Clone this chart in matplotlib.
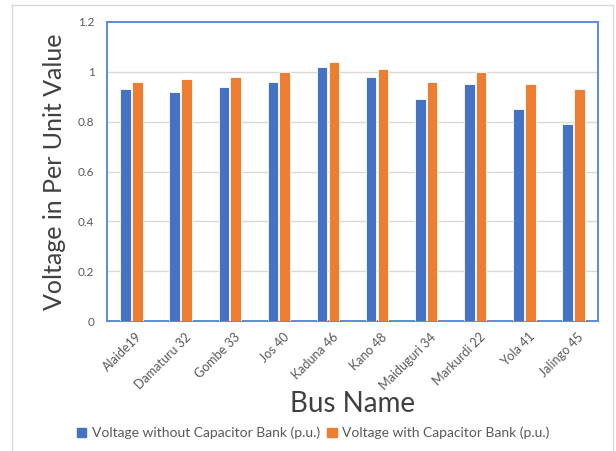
import matplotlib
matplotlib.use("Agg")
import matplotlib.pyplot as plt
import numpy as np
from matplotlib.patches import Patch
from matplotlib.lines import Line2D

buses = ["Alaide19", "Damaturu 32", "Gombe 33", "Jos 40", "Kaduna 46",
         "Kano 48", "Maiduguri 34", "Markurdi 22", "Yola 41", "Jalingo 45"]
without_cap = [0.93, 0.92, 0.94, 0.96, 1.02, 0.98, 0.89, 0.95, 0.85, 0.79]
with_cap = [0.96, 0.97, 0.98, 1.00, 1.04, 1.01, 0.96, 1.00, 0.95, 0.93]
y_ticks = [0, 0.2, 0.4, 0.6, 0.8, 1, 1.2]
y_tick_labels = ["0", "0.2", "0.4", "0.6", "0.8", "1", "1.2"]

plt.rcParams["font.family"] = ["Lato", "DejaVu Sans"]

BLUE = "#4472C4"
ORANGE = "#ED7D31"
TEXT = "#595959"

W, H = 616, 451
fig = plt.figure(figsize=(W / 100, H / 100), dpi=100)
ax = fig.add_axes([107 / W, 1 - 321 / H, (598 - 107) / W, (321 - 22) / H])

x = np.arange(len(buses))
bw = 0.215
ax.bar(x - 0.12, without_cap, bw, color=BLUE, edgecolor="white", linewidth=0.6,
       zorder=3, label="Voltage without Capacitor Bank (p.u.)")
ax.bar(x + 0.12, with_cap, bw, color=ORANGE, edgecolor="white", linewidth=0.6,
       zorder=3, label="Voltage with Capacitor Bank (p.u.)")

ax.set_xlim(-0.5, len(buses) - 0.5)
ax.set_ylim(0, 1.2)
ax.set_yticks(y_ticks)
ax.set_yticklabels(y_tick_labels)
ax.yaxis.grid(True, color="#D9D9D9", linewidth=1.0, zorder=0)
ax.set_axisbelow(True)

ax.set_xticks(x + 0.08)
ax.set_xticklabels(buses, rotation=45, ha="right", rotation_mode="anchor")
ax.tick_params(axis="both", length=0, labelcolor=TEXT)
ax.tick_params(axis="x", pad=7, labelsize=9)
ax.tick_params(axis="y", pad=9, labelsize=8.5)

for s in ax.spines.values():
    s.set_color("#5B8BD9")
    s.set_linewidth(1.4)

ax.set_ylabel("Voltage in Per Unit Value", fontsize=18, color="#404040", labelpad=9)
fig.text(353 / W, 1 - 404 / H, "Bus Name", fontsize=20, color="#404040",
         ha="center", va="center")

handles = [Patch(color=BLUE), Patch(color=ORANGE)]
fig.legend(handles, ["Voltage without Capacitor Bank (p.u.)",
                     "Voltage with Capacitor Bank (p.u.)"],
           loc="center", bbox_to_anchor=(313 / W, 1 - 433 / H), ncol=2,
           frameon=False, fontsize=10, labelcolor=TEXT, handlelength=0.7,
           handleheight=0.7, handletextpad=0.4, columnspacing=0.5)

# outer chart frame
frame_kw = dict(color="#D9D9D9", linewidth=1.0, transform=fig.transFigure)
fig.add_artist(Line2D([12 / W, 12 / W], [0, 1 - 5 / H], **frame_kw))
fig.add_artist(Line2D([12 / W, 613 / W], [1 - 5 / H, 1 - 5 / H], **frame_kw))
fig.add_artist(Line2D([613 / W, 613 / W], [0, 1 - 5 / H], **frame_kw))

fig.savefig("out.png", dpi=100)
